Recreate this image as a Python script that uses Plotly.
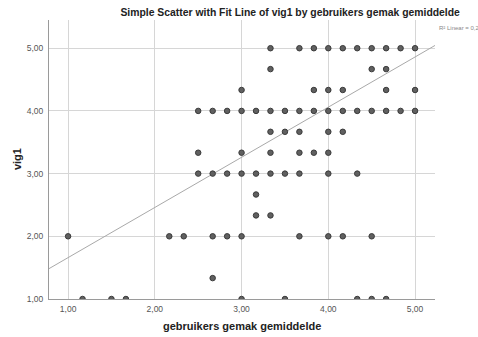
import plotly.graph_objects as go

# Mean ease-of-use scores (x) against vig1 (y), grouped per vig1 level
y_levels = [5.0, 4.6667, 4.3333, 4.0, 3.6667, 3.3333, 3.0, 2.6667, 2.3333, 2.0, 1.3333, 1.0]
x_by_level = [
    [3.3333, 3.6667, 3.8333, 4.0, 4.1667, 4.3333, 4.5, 4.6667, 4.8333, 5.0],
    [3.3333, 4.5, 4.6667],
    [3.0, 3.8333, 4.0, 4.1667, 4.6667, 5.0],
    [2.5, 2.6667, 2.8333, 3.0, 3.1667, 3.3333, 3.5, 3.6667, 3.8333, 4.0, 4.1667,
     4.3333, 4.5, 4.6667, 4.8333, 5.0],
    [3.3333, 3.5, 3.6667, 4.0, 4.1667],
    [2.5, 3.0, 3.3333, 3.6667, 3.8333, 4.0],
    [2.5, 2.6667, 2.8333, 3.0, 3.1667, 3.3333, 3.5, 3.6667, 4.0, 4.3333],
    [3.1667],
    [3.1667, 3.3333],
    [1.0, 2.1667, 2.3333, 2.6667, 2.8333, 3.0, 3.6667, 4.0, 4.1667, 4.5],
    [2.6667],
    [1.1667, 1.5, 1.6667, 3.0, 3.5, 4.3333, 4.5, 4.6667],
]

# Linear fit line: vig1 = intercept + slope * gemak
fit_intercept = 0.86
fit_slope = 0.80
r2_label = "R² Linear = 0,254"

tick_vals = [1, 2, 3, 4, 5]
tick_text = ["1,00", "2,00", "3,00", "4,00", "5,00"]

x_range = [0.78, 5.23]
y_range = [1.0, 5.45]

xs, ys = [], []
for lvl, xl in zip(y_levels, x_by_level):
    xs.extend(xl)
    ys.extend([lvl] * len(xl))

fit_x = x_range
fit_y = [fit_intercept + fit_slope * v for v in fit_x]

font_family = "Liberation Sans, Arial, sans-serif"

fig = go.Figure()
fig.add_trace(go.Scatter(
    x=fit_x, y=fit_y, mode="lines",
    line=dict(color="#a9a9a9", width=1),
    hoverinfo="skip", showlegend=False,
))
fig.add_trace(go.Scatter(
    x=xs, y=ys, mode="markers",
    marker=dict(size=5.5, color="#606060", line=dict(color="#3a3a3a", width=1)),
    cliponaxis=True, showlegend=False,
))

fig.update_layout(
    width=478, height=337,
    margin=dict(l=49, r=43, t=20, b=38),
    paper_bgcolor="white", plot_bgcolor="white",
    font=dict(family=font_family, color="#333333"),
    title=dict(
        text="<b>Simple Scatter with Fit Line of vig1 by gebruikers gemak gemiddelde</b>",
        x=0.607, xanchor="center", y=0.962, yanchor="middle",
        font=dict(size=10.4, color="#222222"),
    ),
    xaxis=dict(
        range=x_range, tickvals=tick_vals, ticktext=tick_text,
        showgrid=True, gridcolor="#d6d6d6", gridwidth=1,
        showline=True, linecolor="#9a9a9a", linewidth=1,
        zeroline=False, ticks="", tickfont=dict(size=8.5, color="#555555"),
        ticklabelstandoff=2,
    ),
    yaxis=dict(
        range=y_range, tickvals=tick_vals, ticktext=tick_text,
        showgrid=True, gridcolor="#d6d6d6", gridwidth=1,
        showline=True, linecolor="#9a9a9a", linewidth=1,
        zeroline=False, ticks="", tickfont=dict(size=8.5, color="#555555"),
        ticklabelstandoff=3,
    ),
    annotations=[
        dict(text="<b>gebruikers gemak gemiddelde</b>", xref="paper", yref="paper",
             x=0.5, y=-0.095, xanchor="center", yanchor="middle", showarrow=False,
             font=dict(size=11, color="#222222")),
        dict(text="<b>vig1</b>", xref="paper", yref="paper",
             x=-0.084, y=0.5, xanchor="center", yanchor="middle", showarrow=False,
             textangle=-90, font=dict(size=11, color="#222222")),
        dict(text=r2_label, xref="paper", yref="paper",
             x=1.005, y=1.0 - 8 / 279, xanchor="left", yanchor="middle", showarrow=False,
             font=dict(size=6, color="#888888")),
    ],
)

fig.write_html("out.html")
